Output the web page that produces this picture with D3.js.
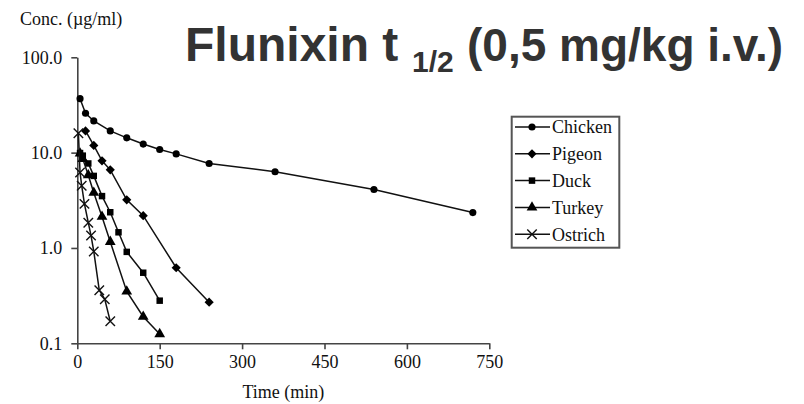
<!DOCTYPE html>
<html>
<head>
<meta charset="utf-8">
<script src="https://cdn.jsdelivr.net/npm/d3@7"></script>
<style>
  body { margin: 0; background: #fff; }
  text { font-family: "Liberation Serif", "Times New Roman", serif; }
</style>
</head>
<body>
<div id="chart"></div>
<script>
// data (time in min, conc in ug/ml)
var species = ["Chicken", "Pigeon", "Duck", "Turkey", "Ostrich"];

var chickenT = [5, 15, 30, 60, 90, 120, 150, 180, 240, 360, 540, 720];
var chickenC = [36.8, 25.9, 21.5, 16.9, 14.3, 12.3, 10.8, 9.7, 7.7, 6.3, 4.1, 2.35];

var pigeonT = [15, 30, 45, 60, 90, 120, 180, 240];
var pigeonC = [16.9, 11.9, 8.2, 6.6, 3.2, 2.18, 0.62, 0.27];

var duckT = [5, 10, 20, 30, 45, 60, 75, 90, 120, 150];
var duckC = [9.9, 9.3, 7.7, 5.7, 3.5, 2.37, 1.46, 0.91, 0.55, 0.28];

var turkeyT = [5, 10, 20, 30, 45, 60, 90, 120, 150];
var turkeyC = [9.8, 8.6, 5.8, 3.8, 2.13, 1.16, 0.35, 0.19, 0.125];

var ostrichT = [2, 5, 8, 13, 20, 25, 30, 40, 50, 60];
var ostrichC = [16, 6.2, 4.5, 2.9, 1.84, 1.35, 0.92, 0.36, 0.29, 0.17];

var xTicks = [0, 150, 300, 450, 600, 750];
var yTicks = [0.1, 1, 10, 100];

var width = 804, height = 404;

function zip(t, c) { return t.map(function(d, i) { return {t: d, c: c[i]}; }); }
var series = [
  {name: "Chicken", pts: zip(chickenT, chickenC), sym: d3.symbolCircle, size: 40, rot: 0, stroke: false},
  {name: "Pigeon", pts: zip(pigeonT, pigeonC), sym: d3.symbolSquare, size: 42, rot: 45, stroke: false},
  {name: "Duck", pts: zip(duckT, duckC), sym: d3.symbolSquare, size: 42, rot: 0, stroke: false},
  {name: "Turkey", pts: zip(turkeyT, turkeyC), sym: d3.symbolTriangle, size: 50, rot: 0, stroke: false},
  {name: "Ostrich", pts: zip(ostrichT, ostrichC), sym: d3.symbolTimes, size: 60, rot: 0, stroke: true}
];

var svg = d3.select("#chart")
    .append("svg")
    .attr("width", width)
    .attr("height", height);

var x = d3.scaleLinear().domain([0, 750]).range([77.3, 489.3]);
var y = d3.scaleLog().domain([0.1, 100]).range([343.3, 57.3]);

// axes
var yAxis = svg.append("g")
    .attr("transform", "translate(" + x(0) + ",0)")
    .call(d3.axisLeft(y).tickValues(yTicks).tickFormat(d3.format(".1f")).tickSize(6).tickSizeOuter(0).tickPadding(9));
var xAxis = svg.append("g")
    .attr("transform", "translate(0," + y(0.1) + ")")
    .call(d3.axisBottom(x).tickValues(xTicks).tickFormat(d3.format("d")).tickSize(6).tickSizeOuter(0).tickPadding(6));

[xAxis, yAxis].forEach(function(a) {
  a.selectAll("path, line").attr("stroke", "#444").attr("stroke-width", 1.6);
  a.selectAll("text").attr("fill", "#111")
    .style("font-family", "'Liberation Serif', serif").style("font-size", "18px");
});

svg.append("text")
    .attr("x", 20).attr("y", 25)
    .style("font-size", "18px").attr("fill", "#111")
    .text("Conc. (\u00b5g/ml)");

svg.append("text")
    .attr("x", x(375)).attr("y", 398)
    .attr("text-anchor", "middle")
    .style("font-size", "18px").attr("fill", "#111")
    .text("Time (min)");

// lines and markers
var line = d3.line()
    .x(function(d) { return x(d.t); })
    .y(function(d) { return y(d.c); });

function marker(sel, s) {
  sel.attr("d", d3.symbol().type(s.sym).size(s.size))
    .attr("fill", s.stroke ? "none" : "#000")
    .attr("stroke", s.stroke ? "#111" : "none")
    .attr("stroke-width", 1.4);
}

series.forEach(function(s) {
  svg.append("path")
      .datum(s.pts)
      .attr("d", line)
      .attr("fill", "none")
      .attr("stroke", "#111")
      .attr("stroke-width", 1.5);

  svg.selectAll(".m-" + s.name)
    .data(s.pts)
    .enter()
    .append("path")
      .attr("class", "m-" + s.name)
      .attr("transform", function(d) { return "translate(" + x(d.t) + "," + y(d.c) + ") rotate(" + s.rot + ")"; })
      .call(marker, s);
});

// legend
var legend = svg.append("g");
legend.append("rect")
    .attr("x", 511.7).attr("y", 116.7)
    .attr("width", 107.6).attr("height", 131)
    .attr("fill", "#fff")
    .attr("stroke", "#555")
    .attr("stroke-width", 2);

series.forEach(function(s, i) {
  var ly = 127 + i * 26.8;
  legend.append("line")
      .attr("x1", 515).attr("x2", 550)
      .attr("y1", ly).attr("y2", ly)
      .attr("stroke", "#111").attr("stroke-width", 1.5);
  legend.append("path")
      .attr("transform", "translate(532," + ly + ") rotate(" + s.rot + ")")
      .call(marker, s);
  legend.append("text")
      .attr("x", 552).attr("y", ly)
      .attr("dy", "0.35em")
      .style("font-size", "18px").attr("fill", "#111")
      .text(s.name);
});

// title
var title = svg.append("text")
    .attr("y", 61)
    .attr("fill", "#333")
    .style("font-family", "'Liberation Sans', Arial, sans-serif")
    .style("font-weight", "bold");
title.append("tspan").attr("x", 185).style("font-size", "48px").text("Flunixin t");
title.append("tspan").attr("x", 412).attr("y", 72).style("font-size", "30px").text("1/2");
title.append("tspan").attr("x", 467).attr("y", 61).style("font-size", "46px").text("(0,5 mg/kg i.v.)");
</script>
</body>
</html>
